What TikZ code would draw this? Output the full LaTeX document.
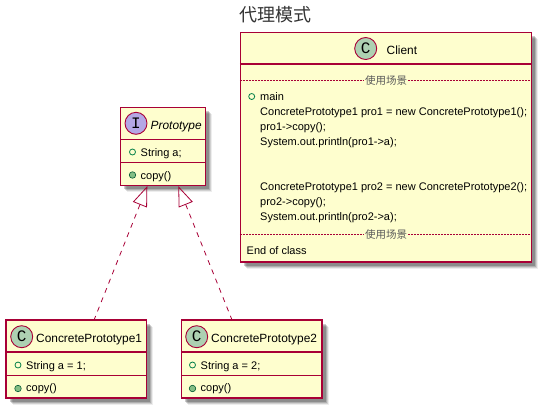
\documentclass[tikz,border=0pt]{standalone}
\usepackage{fontspec}
\setmainfont{Liberation Sans}
\setmonofont{Liberation Mono}
\newfontfamily\cjk{Noto Sans CJK SC}
\usetikzlibrary{positioning, arrows.meta, shadows}

\definecolor{umlred}{HTML}{A80036}
\definecolor{umlfill}{HTML}{FEFECE}
\definecolor{umlgreen}{HTML}{ADD1B2}
\definecolor{umlviolet}{HTML}{B4A7E5}
\definecolor{fieldgreen}{HTML}{038048}
\definecolor{methodgreen}{HTML}{84BE84}

\tikzset{
  umlbox/.style={draw=umlred, line width=1.2pt, fill=umlfill, inner sep=0pt,
    drop shadow={shadow xshift=6.5pt, shadow yshift=-6.5pt, fill=black, opacity=.07},
    drop shadow={shadow xshift=5.5pt, shadow yshift=-5.5pt, fill=black, opacity=.12},
    drop shadow={shadow xshift=4.5pt, shadow yshift=-4.5pt, fill=black, opacity=.16},
    drop shadow={shadow xshift=3.5pt, shadow yshift=-3.5pt, fill=black, opacity=.2}},
  umlline/.style={draw=umlred, line width=1.2pt},
  sepline/.style={draw=umlred, line width=.6pt, dash pattern=on 2pt off 1pt},
  badge/.style={circle, draw=umlred, line width=.9pt, minimum size=22pt, inner sep=0pt,
    font=\ttfamily\fontsize{16}{16}\selectfont},
  label/.style={inner sep=0pt, anchor=west, text height=8pt, text depth=2.5pt, font=\fontsize{11}{13}\selectfont},
  namelabel/.style={label, font=\fontsize{11.9}{14}\selectfont},
  seplabel/.style={inner sep=1pt, fill=umlfill, text=black!65, font=\cjk\fontsize{10.5}{13}\selectfont},
  field/.style={circle, draw=fieldgreen, line width=.8pt, minimum size=6pt, inner sep=0pt},
  method/.style={circle, draw=fieldgreen!70!black, fill=methodgreen, line width=.6pt, minimum size=6.5pt, inner sep=0pt},
  realize/.style={draw=umlred, line width=.8pt, dash pattern=on 5pt off 5pt,
    {Triangle[open, length=20pt, width=15pt, line width=.8pt]}-}
}

\begin{document}
\begin{tikzpicture}[x=1pt, y=-1pt]
  \useasboundingbox (0,0) rectangle (541,408);

  % Title
  \node[inner sep=0pt, text=black!80, font=\cjk\fontsize{18}{20}\selectfont] (title) at (275.5,15) {代理模式};

  % Client
  \node[umlbox, minimum width=291pt, minimum height=229.5pt] (Client) at (386,147.25) {};
  \node[badge, fill=umlgreen] (ClientBadge) at (365.7,48.5) {C};
  \node[namelabel] (ClientName) at (386.5,51.25) {Client};
  \draw[umlline] (Client.west |- 0,64) -- (Client.east |- 0,64);
  \draw[sepline] (Client.west |- 0,80) -- (Client.east |- 0,80);
  \node[seplabel] (ClientTop) at (386,80.5) {使用场景};
  \node[field] (ClientMain) at (251.7,96.5) {};
  \node[label] (main) at (260,97.25) {main};
  \foreach \y/\name/\txt in {112.25/l1/ConcretePrototype1 pro1 = new ConcretePrototype1();,
                             127.25/l2/pro1->copy();,
                             142.25/l3/System.out.println(pro1->a);,
                             187.25/l4/ConcretePrototype1 pro2 = new ConcretePrototype2();,
                             202.25/l5/pro2->copy();,
                             217.25/l6/System.out.println(pro2->a);}
    \node[label] (\name) at (260,\y) {\txt};
  \draw[sepline] (Client.west |- 0,234) -- (Client.east |- 0,234);
  \node[seplabel] (ClientBottom) at (386,234.5) {使用场景};
  \node[label] (endclass) at (246.5,251.25) {End of class};

  % Prototype
  \node[umlbox, minimum width=85pt, minimum height=78pt] (Prototype) at (163.3,146.5) {};
  \node[badge, fill=umlviolet] (ProtoBadge) at (136,123.3) {I};
  \node[namelabel, font=\itshape\fontsize{11.9}{14}\selectfont] (ProtoName) at (150.5,126.25) {Prototype};
  \draw[umlline] (Prototype.west |- 0,139.5) -- (Prototype.east |- 0,139.5);
  \draw[umlline] (Prototype.west |- 0,162.5) -- (Prototype.east |- 0,162.5);
  \node[field] (ProtoField) at (132.5,152) {};
  \node[label] (ProtoA) at (140.5,153.25) {String a;};
  \node[method] (ProtoMethod) at (132.5,175) {};
  \node[label] (ProtoCopy) at (140.5,176.25) {copy()};

  % ConcretePrototype1
  \node[umlbox, minimum width=140.5pt, minimum height=78pt] (CP1) at (76.3,359) {};
  \node[badge, fill=umlgreen] (CP1Badge) at (21.7,336.7) {C};
  \node[namelabel] (CP1Name) at (36,339.5) {ConcretePrototype1};
  \draw[umlline] (CP1.west |- 0,352) -- (CP1.east |- 0,352);
  \draw[umlline] (CP1.west |- 0,375.5) -- (CP1.east |- 0,375.5);
  \node[field] (CP1Field) at (18,365) {};
  \node[label] (CP1A) at (26,366.25) {String a = 1;};
  \node[method] (CP1Method) at (18,388.5) {};
  \node[label] (CP1Copy) at (26,389) {copy()};

  % ConcretePrototype2
  \node[umlbox, minimum width=140.5pt, minimum height=78pt] (CP2) at (251.8,359) {};
  \node[badge, fill=umlgreen] (CP2Badge) at (196.7,336.7) {C};
  \node[namelabel] (CP2Name) at (211,339.5) {ConcretePrototype2};
  \draw[umlline] (CP2.west |- 0,352) -- (CP2.east |- 0,352);
  \draw[umlline] (CP2.west |- 0,375.5) -- (CP2.east |- 0,375.5);
  \node[field] (CP2Field) at (192.5,365) {};
  \node[label] (CP2A) at (200.5,366.25) {String a = 2;};
  \node[method] (CP2Method) at (192.5,388.5) {};
  \node[label] (CP2Copy) at (200.5,389) {copy()};

  % Realizations
  \draw[realize] ([xshift=-16pt]Prototype.south) -- ([xshift=18pt]CP1.north);
  \draw[realize] ([xshift=15pt]Prototype.south) -- ([xshift=-20pt]CP2.north);

\end{tikzpicture}
\end{document}
